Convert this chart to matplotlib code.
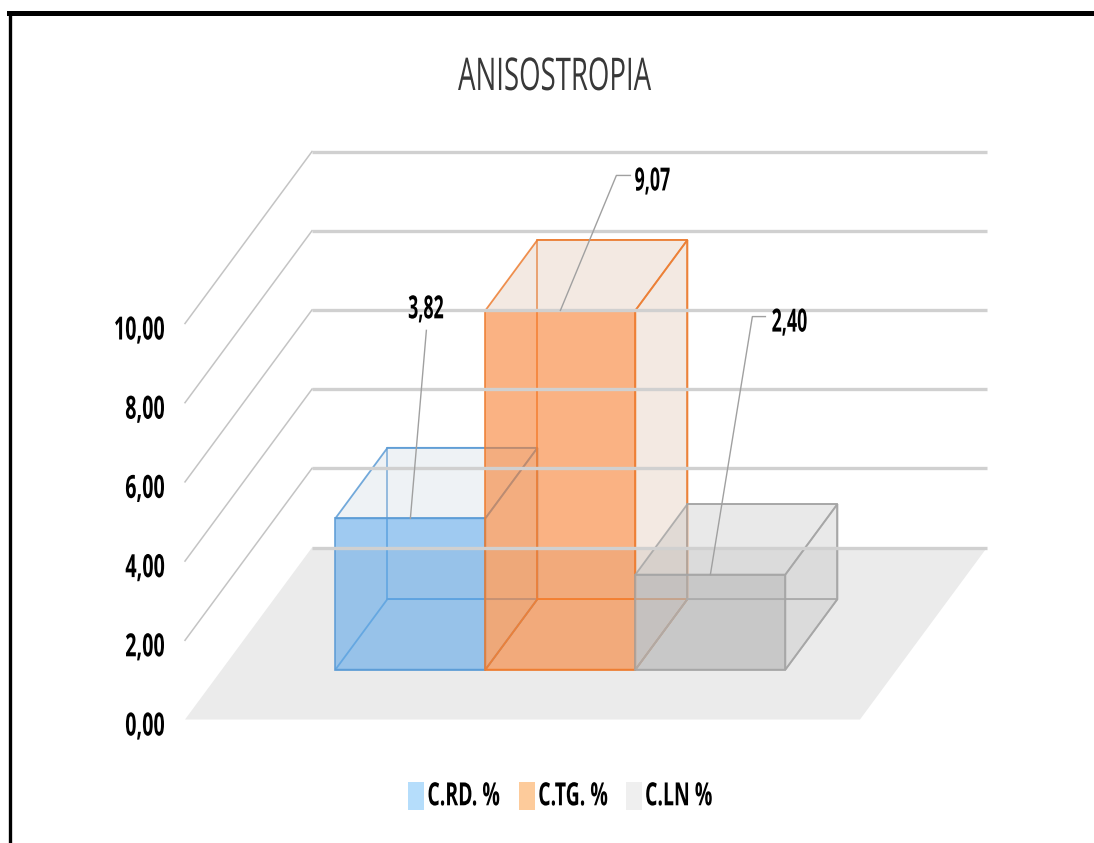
import matplotlib
matplotlib.use('Agg')

import matplotlib.pyplot as plt
from matplotlib.colors import to_rgba
from matplotlib.lines import Line2D
from matplotlib.patches import Patch, Polygon
from matplotlib.patheffects import AbstractPathEffect
from matplotlib.transforms import Affine2D

categories = ['C.RD. %', 'C.TG. %', 'C.LN %']
values = [3.82, 9.07, 2.40]
value_labels = ['3,82', '9,07', '2,40']
axis_values = [0, 2, 4, 6, 8, 10]
axis_labels = ['0,00', '2,00', '4,00', '6,00', '8,00', '10,00']

FIG_W, FIG_H = 1094, 843
PX_X = 150.0   # pixels per category
PX_Y = 39.6    # pixels per value unit
ORIGIN_X, ORIGIN_Y = 185, 719.5
DEPTH_X, DEPTH_Y = 127 / PX_X, 172 / PX_Y
FLOOR_W = 4.5
BAR_START = 0.757
BAR_DEPTH = (0.29, 0.70)

EDGE_COLORS = ['#5B9BD5', '#ED7D31', '#A5A5A5']
FRONT_COLORS = ['#5FA8E8', '#F88030', '#B1B1B1']
TINT_COLORS = ['#C8D4E0', '#D8B8A0', '#B8B8B8']
LEGEND_COLORS = ['#B5DDFB', '#FDCB9B', '#EFEFEF']
GRID = '#C4C4C4'
FONT = ['Open Sans', 'DejaVu Sans']

# pixels from the top of the front face: leader end, then label centre and baseline
LEADER_ENDS = [(16, 188), (56, 135), (42, 258)]
LEADER_TAILS = [0, 14, 13]
LABEL_SPOTS = [(15.5, 200), (92, 120), (79, 243)]


class Squeeze(AbstractPathEffect):
    # the reference font is condensed, so narrow the real text when it is drawn
    def __init__(self, sx, sy, anchor=0.5):
        super().__init__()
        self.sx, self.sy, self.anchor = sx, sy, anchor

    def draw_path(self, renderer, gc, tpath, affine, rgbFace=None):
        ext = tpath.get_extents()
        xa = ext.x0 + ext.width * self.anchor
        squeeze = Affine2D().translate(-xa, 0).scale(self.sx, self.sy).translate(xa, 0)
        renderer.draw_path(gc, tpath, squeeze + affine, rgbFace)


def project(x, v, d):
    return x + d * DEPTH_X, v + d * DEPTH_Y


def poly(ax, pts, **kw):
    ax.add_patch(Polygon([project(*p) for p in pts], closed=True, **kw))


def draw_bar(ax, i, value):
    x0, x1 = BAR_START + i, BAR_START + i + 1
    d0, d1 = BAR_DEPTH
    edge = dict(edgecolor=to_rgba(EDGE_COLORS[i], 0.85), linewidth=1.3)
    tint = to_rgba(TINT_COLORS[i], 0.3)
    poly(ax, [(x0, 0, d1), (x1, 0, d1), (x1, value, d1), (x0, value, d1)],
         facecolor='none', **edge)
    poly(ax, [(x0, 0, d0), (x1, 0, d0), (x1, 0, d1), (x0, 0, d1)],
         facecolor='none', **edge)
    poly(ax, [(x0, value, d0), (x1, value, d0), (x1, value, d1), (x0, value, d1)],
         facecolor=tint, **edge)
    poly(ax, [(x1, 0, d0), (x1, 0, d1), (x1, value, d1), (x1, value, d0)],
         facecolor=tint, **edge)
    poly(ax, [(x0, 0, d0), (x1, 0, d0), (x1, value, d0), (x0, value, d0)],
         facecolor=to_rgba(FRONT_COLORS[i], 0.6), **edge)


fig = plt.figure(figsize=(FIG_W / 100, FIG_H / 100), dpi=100)
ax = fig.add_axes([0, 0, 1, 1])
ax.set_xlim(-ORIGIN_X / PX_X, (FIG_W - ORIGIN_X) / PX_X)
ax.set_ylim(-(FIG_H - ORIGIN_Y) / PX_Y, ORIGIN_Y / PX_Y)
ax.axis('off')

# frame around the chart (top and left only are visible)
ax.add_line(Line2D([0.0095, 0.0095], [0, 0.985], transform=ax.transAxes, color='black', lw=2.4))
ax.add_line(Line2D([0.008, 1], [0.9845, 0.9845], transform=ax.transAxes, color='black', lw=3.6))

poly(ax, [(0, 0, 0), (FLOOR_W, 0, 0), (FLOOR_W, 0, 1), (0, 0, 1)],
     facecolor='#EBEBEB', edgecolor='none')

for v, label in zip(axis_values, axis_labels):
    xs, ys = zip(project(0, v, 0), project(0, v, 1), project(FLOOR_W, v, 1))
    if v > 0:
        ax.plot(xs[:2], ys[:2], color=GRID, lw=1.1)
    ax.plot(xs[1:], ys[1:], color='#D0D0D0', lw=2.4, solid_capstyle='butt')
    t = ax.text(-20 / PX_X, v - 16 / PX_Y, label, ha='right', va='baseline',
                fontsize=20, fontweight='bold', family=FONT, color='black')
    t.set_path_effects([Squeeze(0.71, 1.15, 1.0)])

for i, value in enumerate(values):
    draw_bar(ax, i, value)

for i, (value, label) in enumerate(zip(values, value_labels)):
    px, vy = project(BAR_START + i + 0.5, value, BAR_DEPTH[0])
    dx, dy = LEADER_ENDS[i]
    lx, ly = px + dx / PX_X, vy + dy / PX_Y
    ax.plot([px, lx, lx + LEADER_TAILS[i] / PX_X], [vy, ly, ly], color='#A0A0A0', lw=1)
    sx, sy = LABEL_SPOTS[i]
    t = ax.text(px + sx / PX_X, vy + sy / PX_Y, label, ha='center', va='baseline',
                fontsize=20, fontweight='bold', family=FONT, color='black')
    t.set_path_effects([Squeeze(0.64, 1.15, 0.5)])

title = fig.text(0.507, 1 - 90 / FIG_H, 'ANISOSTROPIA', ha='center', va='baseline',
                 fontsize=29, family=FONT, color='#383838')
title.set_path_effects([Squeeze(0.685, 1.12, 0.5)])

handles = [Patch(facecolor=c, edgecolor='none', label=n)
           for c, n in zip(LEGEND_COLORS, categories)]
leg = fig.legend(handles=handles, ncol=3, loc='center', bbox_to_anchor=(0.525, 0.0546),
                 frameon=False, handlelength=0.575, handleheight=1.2, handletextpad=0.11,
                 columnspacing=-0.43, prop={'family': FONT, 'weight': 'bold', 'size': 20})
for t in leg.get_texts():
    t.set_path_effects([Squeeze(0.7, 1.15, 0.0)])

fig.savefig('out.png', dpi=100)
plt.close()
